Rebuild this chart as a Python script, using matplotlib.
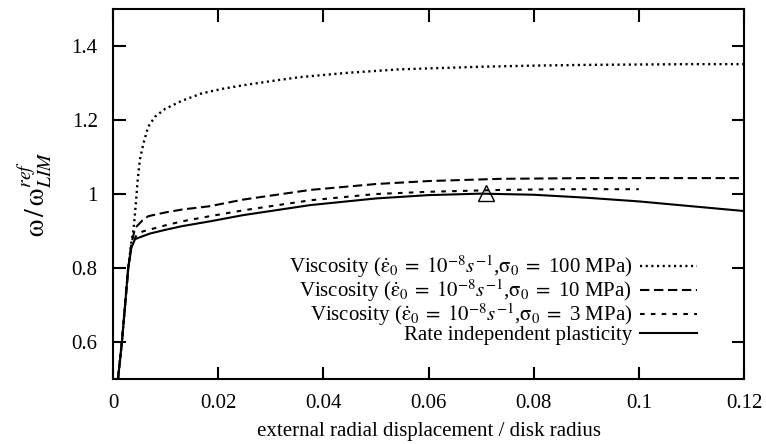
import matplotlib
matplotlib.use("Agg")
import matplotlib.pyplot as plt

plt.rcParams['font.family'] = ['Liberation Serif', 'DejaVu Serif']
plt.rcParams['mathtext.fontset'] = 'stix'

# curve data
x_plast = [0.00095, 0.0017, 0.0029, 0.0035, 0.0042, 0.0051, 0.007, 0.0099, 0.0131, 0.0184,
           0.0248, 0.0375, 0.05, 0.06, 0.07, 0.08, 0.09, 0.1, 0.11, 0.12]
y_plast = [0.5, 0.6, 0.8, 0.855, 0.878, 0.883, 0.893, 0.903, 0.913, 0.926,
           0.943, 0.97, 0.988, 0.997, 1.001, 0.998, 0.99, 0.98, 0.967, 0.954]

x_visc3 = [0.00095, 0.0017, 0.0029, 0.0035, 0.0045, 0.0057, 0.0099, 0.0131, 0.0184, 0.0248,
           0.0375, 0.05, 0.06, 0.0736, 0.085, 0.1]
y_visc3 = [0.5, 0.6, 0.8, 0.86, 0.89, 0.899, 0.915, 0.926, 0.94, 0.956,
           0.983, 1.0, 1.006, 1.011, 1.013, 1.013]

x_visc10 = [0.00095, 0.0017, 0.0029, 0.0035, 0.0042, 0.0057, 0.0067, 0.0099, 0.0131, 0.0184,
            0.0248, 0.0375, 0.05, 0.06, 0.0736, 0.09, 0.105, 0.12]
y_visc10 = [0.5, 0.6, 0.8, 0.865, 0.908, 0.93, 0.94, 0.95, 0.958, 0.967,
            0.985, 1.011, 1.027, 1.035, 1.041, 1.043, 1.043, 1.043]

x_visc100 = [0.00095, 0.0017, 0.0029, 0.0035, 0.0039, 0.0043, 0.0047, 0.0051, 0.0058, 0.0067,
             0.008, 0.0099, 0.0131, 0.0169, 0.0207, 0.0248, 0.03, 0.0356, 0.045, 0.0546,
             0.07, 0.08, 0.09, 0.1, 0.11, 0.12]
y_visc100 = [0.5, 0.6, 0.8, 0.87, 0.903, 0.966, 1.038, 1.092, 1.137, 1.182,
             1.209, 1.23, 1.252, 1.272, 1.284, 1.294, 1.305, 1.316, 1.328, 1.337,
             1.344, 1.347, 1.349, 1.35, 1.351, 1.351]

x_max = [0.071]
y_max = [1.003]

labels = [r'Viscosity ($\dot{\mathrm{\varepsilon}}_0\;=\;10^{-8}s^{-1}$,$\mathrm{\sigma}_0\;=$ 100 MPa)',
          r'Viscosity ($\dot{\mathrm{\varepsilon}}_0\;=\;10^{-8}s^{-1}$,$\mathrm{\sigma}_0\;=$ 10 MPa)',
          r'Viscosity ($\dot{\mathrm{\varepsilon}}_0\;=\;10^{-8}s^{-1}$,$\mathrm{\sigma}_0\;=$ 3 MPa)',
          'Rate independent plasticity']

xticks = [0, 0.02, 0.04, 0.06, 0.08, 0.1, 0.12]
xticklabels = ['0', '0.02', '0.04', '0.06', '0.08', '0.1', '0.12']
yticks = [0.6, 0.8, 1.0, 1.2, 1.4]
yticklabels = ['0.6', '0.8', '1', '1.2', '1.4']

fig = plt.figure(figsize=(7.66, 4.44), dpi=100)
ax = fig.add_axes([0.1475, 0.1464, 0.8238, 0.8333])

lw = 1.5
ax.plot(x_visc100, y_visc100, color='black', lw=1.7, ls=(0, (0.9, 1.5)),
        dash_capstyle='butt', label=labels[0])
ax.plot(x_visc10, y_visc10, color='black', lw=lw, ls=(0, (4.5, 2.2)), label=labels[1])
ax.plot(x_visc3, y_visc3, color='black', lw=lw, ls=(0, (2.2, 3)), label=labels[2])
ax.plot(x_plast, y_plast, color='black', lw=lw, ls='-', label=labels[3])
ax.plot(x_max, y_max, marker='^', ms=11, mfc='none', mec='black', mew=1.0, ls='none')

ax.set_xlim(0, 0.12)
ax.set_ylim(0.5, 1.5)
ax.set_xticks(xticks)
ax.set_xticklabels(xticklabels)
ax.set_yticks(yticks)
ax.set_yticklabels(yticklabels)
ax.tick_params(direction='in', length=9, width=1.5, top=True, right=True,
               labelsize=15, pad=11)
for s in ax.spines.values():
    s.set_linewidth(1.5)

ax.set_xlabel('external radial displacement / disk radius', fontsize=15, labelpad=6)
ax.set_ylabel(r'$\mathrm{\omega}\,/\,\mathrm{\omega}^{ref}_{LIM}$', fontsize=20, labelpad=12)

ax.legend(loc='upper right', bbox_to_anchor=(0.925, 0.34), frameon=False,
          markerfirst=False, fontsize=15, handlelength=2.7, handletextpad=0.4,
          labelspacing=-0.12, borderpad=0, borderaxespad=0)

fig.savefig('out.png', dpi=100)
